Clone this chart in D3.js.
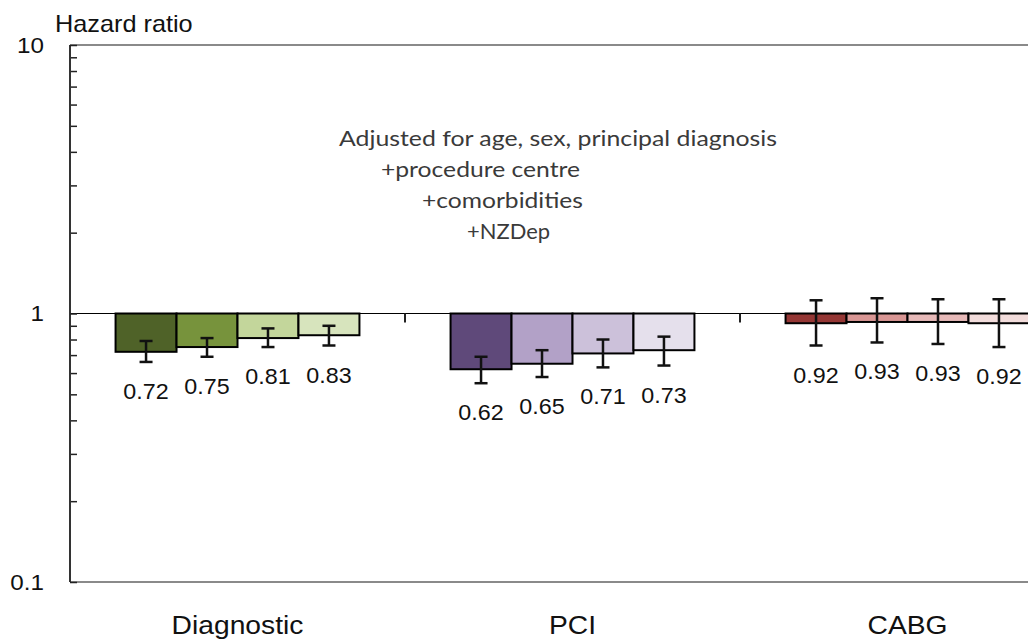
<!DOCTYPE html>
<html>
<head>
<meta charset="utf-8">
<script src="https://cdn.jsdelivr.net/npm/d3@7"></script>
<style>
  html, body { margin: 0; padding: 0; background: #fff; }
  svg { display: block; overflow: hidden; font-family: "Liberation Sans", Arial, sans-serif; }
</style>
</head>
<body>
<svg id="chart" width="1028" height="639"></svg>
<script>
// Procedure categories and the four nested adjustment models
const categories = ["Diagnostic", "PCI", "CABG"];
const models = [
  "Adjusted for age, sex, principal diagnosis",
  "+procedure centre",
  "+comorbidities",
  "+NZDep"
];

// Hazard ratios per model
const diagnosticHR = [0.72, 0.75, 0.81, 0.83];
const pciHR        = [0.62, 0.65, 0.71, 0.73];
const cabgHR       = [0.92, 0.93, 0.93, 0.92];

// 95% confidence limits
const diagnosticLow  = [0.66, 0.69, 0.75, 0.76];
const diagnosticHigh = [0.79, 0.81, 0.88, 0.90];
const pciLow         = [0.55, 0.58, 0.63, 0.64];
const pciHigh        = [0.69, 0.73, 0.80, 0.82];
const cabgLow        = [0.76, 0.78, 0.77, 0.75];
const cabgHigh       = [1.12, 1.14, 1.13, 1.13];

// Fill shades per procedure, darkest = base model
const diagnosticColors = ["#4f6228", "#77933c", "#c3d69b", "#d7e4bd"];
const pciColors        = ["#5f497a", "#b2a1c7", "#ccc1da", "#e5e0ec"];
const cabgColors       = ["#953735", "#d99694", "#e6b9b8", "#f2dcdb"];

// Y axis ticks
const majorTicks = [0.1, 1, 10];
const minorTicks = [0.2, 0.3, 0.4, 0.5, 0.6, 0.7, 0.8, 0.9, 2, 3, 4, 5, 6, 7, 8, 9];

const groups = [
  { name: categories[0], hr: diagnosticHR, low: diagnosticLow, high: diagnosticHigh, colors: diagnosticColors },
  { name: categories[1], hr: pciHR,        low: pciLow,        high: pciHigh,        colors: pciColors },
  { name: categories[2], hr: cabgHR,       low: cabgLow,       high: cabgHigh,       colors: cabgColors }
];

const svg = d3.select("#chart");
const plotLeft = 70, plotRight = 1075, plotTop = 45, plotBottom = 582;
const stretch = 1.1;

const y = d3.scaleLog().domain([0.1, 10]).range([plotBottom, plotTop]);
const x = d3.scaleBand().domain(categories).range([plotLeft, plotRight])
  .paddingInner(0.272).paddingOuter(0.136);
const xm = d3.scaleBand().domain(d3.range(models.length)).range([0, x.bandwidth()]);

// Frame: top and bottom borders
svg.append("line").attr("x1", plotLeft).attr("x2", plotRight).attr("y1", y(10)).attr("y2", y(10))
  .attr("stroke", "#8a8a8a").attr("stroke-width", 2);
svg.append("line").attr("x1", plotLeft).attr("x2", plotRight).attr("y1", y(0.1)).attr("y2", y(0.1))
  .attr("stroke", "#8a8a8a").attr("stroke-width", 2);

// Reference line at HR = 1 with category dividers
svg.append("line").attr("x1", plotLeft).attr("x2", plotRight).attr("y1", y(1)).attr("y2", y(1))
  .attr("stroke", "#000").attr("stroke-width", 1);
const dividers = categories.slice(1).map(c => x(c) - x.step() * x.paddingInner() / 2);
svg.selectAll("line.divider").data(dividers).join("line")
  .attr("class", "divider")
  .attr("x1", d => d).attr("x2", d => d)
  .attr("y1", y(1)).attr("y2", y(1) + 9)
  .attr("stroke", "#222").attr("stroke-width", 2);

// Y axis: minor ticks, then major ticks with labels
const minorAxis = svg.append("g").attr("transform", `translate(${plotLeft},0)`)
  .call(d3.axisLeft(y).tickValues(minorTicks).tickSize(5).tickFormat(""));
minorAxis.selectAll(".tick line").attr("x2", 7).attr("stroke", "#222").attr("stroke-width", 1.5);
minorAxis.select(".domain").remove();

const majorAxis = svg.append("g").attr("transform", `translate(${plotLeft},0)`)
  .call(d3.axisLeft(y).tickValues(majorTicks).tickSize(8).tickPadding(18)
    .tickFormat(d => d3.format("~g")(d)));
majorAxis.attr("font-size", 22).attr("font-family", "'Liberation Sans', Arial, sans-serif");
majorAxis.selectAll(".tick line").attr("x2", 7).attr("stroke", "#222").attr("stroke-width", 1.5);
majorAxis.select(".domain").attr("stroke", "#333").attr("stroke-width", 2)
  .attr("d", `M0,${y(10)}V${y(0.1)}`);
majorAxis.selectAll(".tick text")
  .attr("fill", "#111")
  .each(function () {
    const t = d3.select(this);
    const tx = +t.attr("x");
    t.attr("x", null).attr("transform", `translate(${tx},0) scale(${stretch},1)`);
  });

// Axis title
svg.append("text").attr("transform", `translate(55,32) scale(${stretch},1)`)
  .attr("font-size", 23).attr("fill", "#111").text("Hazard ratio");

// Bars, error bars and value labels
const g = svg.selectAll("g.group").data(groups).join("g")
  .attr("class", "group")
  .attr("transform", d => `translate(${x(d.name)},0)`);

const items = g.selectAll("g.item")
  .data(d => d.hr.map((v, i) => ({ i, v, lo: d.low[i], hi: d.high[i], color: d.colors[i] })))
  .join("g").attr("class", "item");

items.append("rect")
  .attr("x", d => xm(d.i))
  .attr("width", xm.bandwidth())
  .attr("y", d => Math.min(y(1), y(d.v)))
  .attr("height", d => Math.abs(y(d.v) - y(1)))
  .attr("fill", d => d.color)
  .attr("stroke", "#000").attr("stroke-width", 2);

const cx = d => xm(d.i) + xm.bandwidth() / 2;
items.append("line")
  .attr("x1", cx).attr("x2", cx)
  .attr("y1", d => y(d.hi)).attr("y2", d => y(d.lo))
  .attr("stroke", "#111").attr("stroke-width", 2.5);
items.selectAll("line.cap").data(d => [[d, d.hi], [d, d.lo]]).join("line")
  .attr("class", "cap")
  .attr("x1", p => cx(p[0]) - 6.5).attr("x2", p => cx(p[0]) + 6.5)
  .attr("y1", p => y(p[1])).attr("y2", p => y(p[1]))
  .attr("stroke", "#111").attr("stroke-width", 2.5);

items.append("text")
  .attr("transform", d => `translate(${cx(d)},${y(d.lo) + 37}) scale(1.06,1)`)
  .attr("text-anchor", "middle")
  .attr("font-size", 22).attr("fill", "#111")
  .text(d => d3.format(".2f")(d.v));

// Category labels
svg.selectAll("text.cat").data(categories).join("text")
  .attr("class", "cat")
  .attr("transform", d => `translate(${x(d) + x.bandwidth() / 2},634) scale(1.13,1)`)
  .attr("text-anchor", "middle")
  .attr("font-size", 25).attr("fill", "#111")
  .text(d => d);

// Model annotation, one line per model
const noteX = [339, 381, 422, 467];
const noteW = [438, 199, 161, 83];
const noteY = [146, 177, 208, 239];
svg.selectAll("text.note").data(models).join("text")
  .attr("class", "note")
  .attr("x", (d, i) => noteX[i]).attr("y", (d, i) => noteY[i])
  .attr("textLength", (d, i) => noteW[i]).attr("lengthAdjust", "spacingAndGlyphs")
  .style("font-family", "Lato, 'Open Sans', sans-serif")
  .attr("font-size", 21).attr("fill", "#3a3a3a")
  .text(d => d);
</script>
</body>
</html>
